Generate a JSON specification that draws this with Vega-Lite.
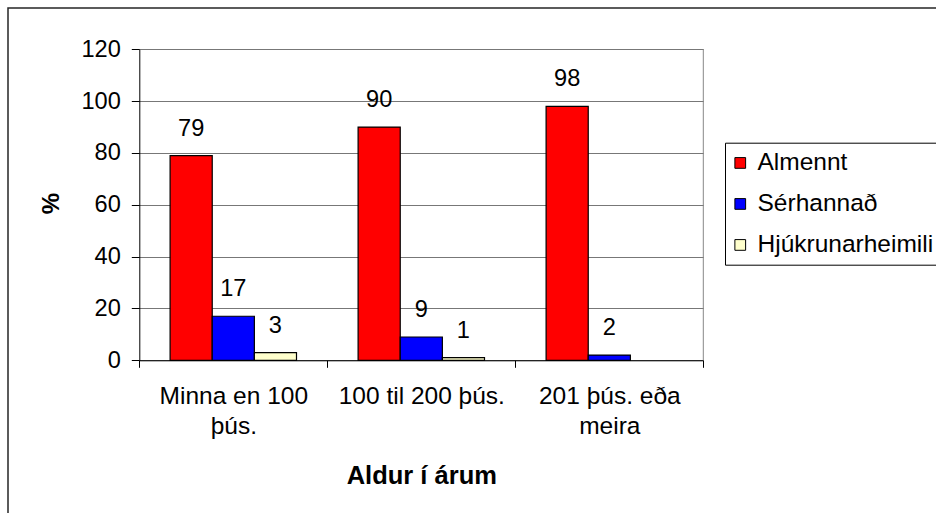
{
  "$schema": "https://vega.github.io/schema/vega-lite/v6.json",
  "autosize": {"type": "none"},
  "width": 930,
  "height": 507,
  "padding": {"left": 8, "top": 8, "right": -2, "bottom": -2},
  "background": "white",
  "config": {
    "font": "Liberation Sans",
    "view": {"stroke": "#262626", "strokeWidth": 1.5}
  },
  "data": {
    "values": [
      {"cat": "Minna en 100 þús.", "series": "Almennt", "value": 79},
      {"cat": "Minna en 100 þús.", "series": "Sérhannað", "value": 17},
      {"cat": "Minna en 100 þús.", "series": "Hjúkrunarheimili", "value": 3},
      {"cat": "100 til 200 þús.", "series": "Almennt", "value": 90},
      {"cat": "100 til 200 þús.", "series": "Sérhannað", "value": 9},
      {"cat": "100 til 200 þús.", "series": "Hjúkrunarheimili", "value": 1},
      {"cat": "201 þús. eða meira", "series": "Almennt", "value": 98},
      {"cat": "201 þús. eða meira", "series": "Sérhannað", "value": 2}
    ]
  },
  "layer": [
    {
      "mark": {"type": "bar", "stroke": "black", "strokeWidth": 1.2},
      "encoding": {
        "x": {
          "field": "cat",
          "type": "nominal",
          "sort": ["Minna en 100 þús.", "100 til 200 þús.", "201 þús. eða meira"],
          "scale": {"domain": ["Minna en 100 þús.", "100 til 200 þús.", "201 þús. eða meira"], "range": [131.3, 695.3], "paddingInner": 0, "paddingOuter": 0},
          "axis": {
            "title": "Aldur í árum",
            "orient": "bottom",
            "offset": -154.7,
            "tickBand": "extent",
            "tickSize": 7,
            "tickColor": "black",
            "domainColor": "black",
            "labelAngle": 0,
            "labelFontSize": 24.5,
            "labelPadding": 17,
            "labelBaseline": "top",
            "labelLineHeight": 30,
            "labelOverlap": false,
            "labelLimit": 0,
            "labelColor": "black",
            "labelExpr": "datum.value == 'Minna en 100 þús.' ? ['Minna en 100', 'þús.'] : datum.value == '201 þús. eða meira' ? ['201 þús. eða', 'meira'] : datum.label",
            "titleFontSize": 25.5,
            "titleFontWeight": "bold",
            "titleColor": "black",
            "titleY": 123,
            "titleBaseline": "alphabetic",
            "grid": false
          }
        },
        "xOffset": {
          "field": "series",
          "sort": ["Almennt", "Sérhannað", "Hjúkrunarheimili"],
          "scale": {"domain": ["Almennt", "Sérhannað", "Hjúkrunarheimili"], "paddingInner": 0, "paddingOuter": 0.731}
        },
        "y": {
          "field": "value",
          "type": "quantitative",
          "scale": {"domain": [0, 120], "range": [352.3, 41.3], "nice": false, "zero": true},
          "axis": {
            "title": "%",
            "orient": "left",
            "offset": -131.3,
            "values": [0, 20, 40, 60, 80, 100, 120],
            "grid": true,
            "gridColor": "#777777",
            "gridWidth": 1,
            "gridOpacity": 1,
            "tickSize": 8,
            "tickColor": "black",
            "domainColor": "black",
            "labelFontSize": 23.6,
            "labelPadding": 11,
            "labelColor": "black",
            "titleFontSize": 24,
            "titleFontWeight": "bold",
            "titleColor": "black",
            "titleAngle": -90,
            "titleX": -87.6,
            "titleY": 195,
            "titleAlign": "center",
            "titleBaseline": "middle"
          }
        },
        "color": {
          "field": "series",
          "type": "nominal",
          "sort": ["Almennt", "Sérhannað", "Hjúkrunarheimili"],
          "scale": {"domain": ["Almennt", "Sérhannað", "Hjúkrunarheimili"], "range": ["#ff0000", "#0000ff", "#ffffcc"]},
          "legend": {
            "orient": "none",
            "legendX": 717,
            "legendY": 134.7,
            "title": null,
            "strokeColor": "black",
            "fillColor": "white",
            "padding": 8,
            "symbolType": "square",
            "symbolSize": 115,
            "symbolStrokeColor": "black",
            "symbolStrokeWidth": 1,
            "symbolOffset": -5,
            "labelFontSize": 24.5,
            "labelOffset": 5,
            "labelColor": "black",
            "labelLimit": 0,
            "rowPadding": 16
          }
        }
      }
    },
    {
      "mark": {"type": "text", "baseline": "alphabetic", "dy": -20, "fontSize": 23.6, "fill": "black"},
      "encoding": {
        "x": {"field": "cat", "type": "nominal", "sort": ["Minna en 100 þús.", "100 til 200 þús.", "201 þús. eða meira"]},
        "xOffset": {"field": "series", "sort": ["Almennt", "Sérhannað", "Hjúkrunarheimili"]},
        "y": {"field": "value", "type": "quantitative"},
        "text": {"field": "value", "type": "quantitative"}
      }
    },
    {
      "data": {"values": [{"cat": "201 þús. eða meira", "lo": 0, "hi": 120}]},
      "mark": {"type": "rule", "color": "#888888", "strokeWidth": 1},
      "encoding": {
        "x": {"field": "cat", "type": "nominal", "sort": ["Minna en 100 þús.", "100 til 200 þús.", "201 þús. eða meira"], "bandPosition": 1},
        "y": {"field": "lo", "type": "quantitative"},
        "y2": {"field": "hi"}
      }
    }
  ]
}
